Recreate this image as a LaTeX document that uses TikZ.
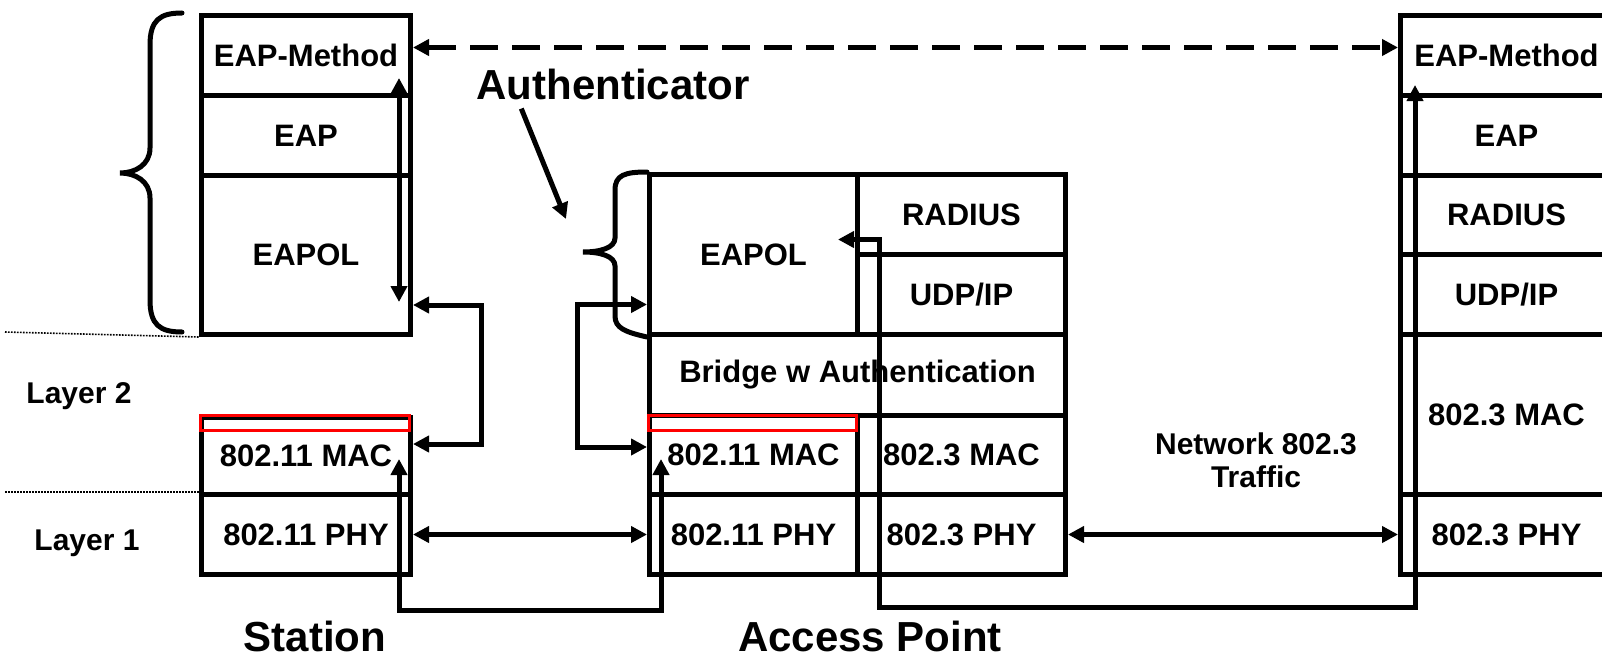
\documentclass[tikz,border=0pt]{standalone}
\usepackage{fontspec}
\setmainfont{Liberation Sans}
\usetikzlibrary{arrows.meta,calc}
\begin{document}
\begin{tikzpicture}[x=1pt,y=-1pt,
  >={Triangle[length=16pt,width=16pt]},
  cell/.style={draw, line width=5pt, anchor=north west, inner sep=0pt,
    font=\fontsize{31}{36}\selectfont\bfseries},
  redbox/.style={draw=red, line width=3pt, anchor=north west, inner sep=0pt,
    minimum height=15pt},
  lnk/.style={line width=5pt, line join=miter},
  brace/.style={line width=5pt, line cap=round},
  dotline/.style={line width=1.6pt, dash pattern=on 1.6pt off 1.4pt},
  lbl/.style={inner sep=0pt, font=\fontsize{30}{34}\selectfont\bfseries},
  big/.style={inner sep=0pt, anchor=base, font=\fontsize{42}{48}\selectfont\bfseries}
]
\useasboundingbox (0,0) rectangle (1602,661);
\clip (0,0) rectangle (1602,661);

% ---------- Station ----------
\node[cell, minimum width=209pt, minimum height=80pt] (sEM) at (199,13) {EAP-Method};
\node[cell, minimum width=209pt, minimum height=80pt] (sEAP) at (199,93) {EAP};
\node[cell, minimum width=209pt, minimum height=159pt] (sEAPOL) at (199,173) {EAPOL};
\node[cell, minimum width=209pt, minimum height=77pt] (sMAC) at (199,415) {802.11 MAC};
\node[cell, minimum width=209pt, minimum height=80pt] (sPHY) at (199,492) {802.11 PHY};
\node[redbox, minimum width=209pt] (sRed) at (199,413.5) {};

% ---------- Access Point ----------
\node[cell, minimum width=208pt, minimum height=160pt] (aEAPOL) at (647,172) {EAPOL};
\node[cell, minimum width=208pt, minimum height=80pt] (aRAD) at (855,172) {RADIUS};
\node[cell, minimum width=208pt, minimum height=80pt] (aUDP) at (855,252) {UDP/IP};
\node[cell, minimum width=416pt, minimum height=81pt] (aBr) at (647,332) {Bridge w Authentication};
\node[cell, minimum width=208pt, minimum height=79pt] (aMAC11) at (647,413) {802.11 MAC};
\node[cell, minimum width=208pt, minimum height=79pt] (aMAC3) at (855,413) {802.3 MAC};
\node[cell, minimum width=208pt, minimum height=80pt] (aPHY11) at (647,492) {802.11 PHY};
\node[cell, minimum width=208pt, minimum height=80pt] (aPHY3) at (855,492) {802.3 PHY};
\node[redbox, minimum width=208pt] (aRed) at (647,413.5) {};

% ---------- Right (server) ----------
\node[cell, minimum width=212pt, minimum height=80pt] (rEM) at (1398,13) {EAP-Method};
\node[cell, minimum width=212pt, minimum height=80pt] (rEAP) at (1398,93) {EAP};
\node[cell, minimum width=212pt, minimum height=79pt] (rRAD) at (1398,173) {RADIUS};
\node[cell, minimum width=212pt, minimum height=80pt] (rUDP) at (1398,252) {UDP/IP};
\node[cell, minimum width=212pt, minimum height=160pt] (rMAC) at (1398,332) {802.3 MAC};
\node[cell, minimum width=212pt, minimum height=80pt] (rPHY) at (1398,492) {802.3 PHY};

% ---------- braces ----------
\draw[brace] (182,13)
  .. controls (160,13) and (150,20) .. (150,45) -- (150,148)
  .. controls (150,165) and (135,173) .. (120,173)
  .. controls (135,173) and (150,181) .. (150,198) -- (150,300)
  .. controls (150,325) and (160,332) .. (182,332);
\draw[brace] (aEAPOL.north west)
  .. controls (625,172) and (615,175) .. (615,190) -- (615,238)
  .. controls (615,248) and (600,252) .. (583,252)
  .. controls (600,252) and (615,256) .. (615,266) -- (615,316)
  .. controls (615,328) and (625,332) .. (aEAPOL.south west);

% ---------- labels ----------
\node[big] (auth) at (613,99) {Authenticator};
\node[big] (stn) at (315,651) {Station};
\node[big] (ap) at (870,651) {Access Point};
\node[lbl] (l2) at (79,396) {Layer 2};
\node[lbl] (l1) at (87,543) {Layer 1};
\node[inner sep=0pt, align=center, font=\fontsize{30}{33}\selectfont\bfseries] (net) at (1256,460) {Network 802.3\\Traffic};

% ---------- dotted layer lines ----------
\coordinate (d1) at (5,332);
\coordinate (d2) at (5,492);
\draw[dotline] (d1) -- (sEAPOL.south west);
\draw[dotline] (d2) -- (sPHY.north west);

% ---------- connectors ----------
\draw[lnk, line width=4.5pt, dash pattern=on 28pt off 14pt, <->] ([yshift=8pt]sEM.east) -- ([yshift=8pt]rEM.west);
\draw[lnk, <->] ([xshift=-14pt,yshift=20pt]sEM.south east) -- ([xshift=-14pt,yshift=35pt]sEAPOL.south east);
\draw[lnk, <->] ([yshift=-50pt]sEAPOL.east) -- ++(68,0) |- ([yshift=12pt]sMAC.east);
\draw[lnk, <->] ([yshift=-50pt]aEAPOL.west) -- ++(-70,0) |- ([yshift=8pt]aMAC11.west);
\draw[lnk, <->] (sPHY.east) -- (aPHY11.west);
\draw[lnk, <->] (aPHY3.east) -- (rPHY.west);
\draw[lnk, <->] ([xshift=-14pt,yshift=38pt]sMAC.south east) -- ++(0,151) -| ([xshift=14pt,yshift=38pt]aMAC11.south west);
\draw[lnk, <->] ([xshift=-22pt,yshift=15pt]aEAPOL.east) -- ++(41,0) -- ++(0,368) -| ([xshift=17pt,yshift=13pt]rEM.south west);
\coordinate (authtip) at (566,219);
\draw[lnk, ->] ([xshift=45pt,yshift=-9pt]auth.south west) -- (authtip);
\end{tikzpicture}
\end{document}
